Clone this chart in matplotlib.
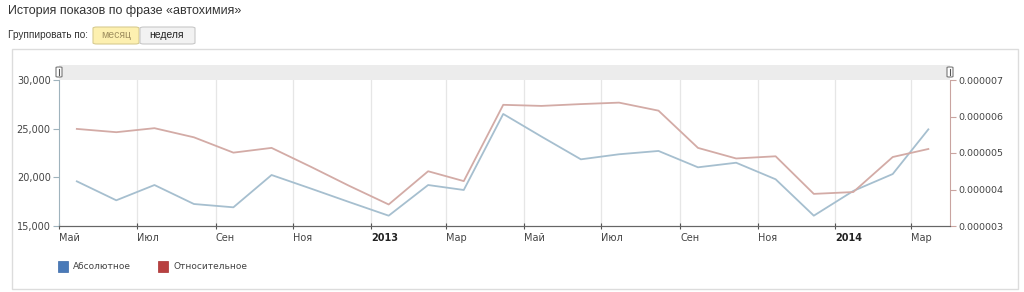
import datetime as dt
import matplotlib
matplotlib.use('Agg')
import matplotlib.pyplot as plt
import matplotlib.dates as mdates
from matplotlib.patches import Rectangle, FancyBboxPatch
from matplotlib.ticker import FuncFormatter, FixedLocator

# monthly points, May 2012 .. Mar 2014 (plotted mid-month)
months = [(2012, m) for m in range(5, 13)] + [(2013, m) for m in range(1, 13)] + [(2014, m) for m in range(1, 4)]
absolute = [19590, 17640, 19210, 17260, 16920, 20240, 18840, 17460, 16060, 19210, 18700, 26510,
            24190, 21850, 22370, 22710, 21030, 21500, 19800, 16060, 18600, 20340, 24930]
relative = [5.66, 5.57, 5.68, 5.43, 5.01, 5.14, 4.62, 4.10, 3.59, 4.50, 4.23, 6.32,
            6.29, 6.34, 6.38, 6.16, 5.14, 4.85, 4.91, 3.88, 3.93, 4.89, 5.11]  # x 1e-6
tick_dates = [(2012, 5), (2012, 7), (2012, 9), (2012, 11), (2013, 1), (2013, 3), (2013, 5),
              (2013, 7), (2013, 9), (2013, 11), (2014, 1), (2014, 3)]
tick_labels = ['Май', 'Июл', 'Сен', 'Ноя', '2013', 'Мар', 'Май', 'Июл', 'Сен', 'Ноя', '2014', 'Мар']

W, H = 1024, 292
fig = plt.figure(figsize=(W / 100, H / 100), dpi=100)
fig.patch.set_facecolor('white')

def fx(px):
    return px / W

def fy(py):
    return 1 - py / H

# outer panel
fig.patches.append(Rectangle((fx(12), fy(289)), fx(1006), (289 - 49) / H, transform=fig.transFigure,
                             fill=False, edgecolor='#dcdcdc', lw=1))

fig.text(fx(8), fy(11), 'История показов по фразе «автохимия»', fontsize=9, family='Liberation Sans',
         color='#333333', va='center')
fig.text(fx(8), fy(35), 'Группировать по:', fontsize=7.2, family='Liberation Sans', color='#333333', va='center')
fig.patches.append(FancyBboxPatch((fx(93), fy(44)), fx(46), 17 / H, boxstyle='round,pad=0,rounding_size=0.004',
                                  transform=fig.transFigure, facecolor='#fdf0b0', edgecolor='#d8cc90', lw=0.8))
fig.patches.append(FancyBboxPatch((fx(140), fy(44)), fx(55), 17 / H, boxstyle='round,pad=0,rounding_size=0.004',
                                  transform=fig.transFigure, facecolor='#f2f2f2', edgecolor='#c8c8c8', lw=0.8))
fig.text(fx(116), fy(35.5), 'месяц', fontsize=7.5, family='Liberation Sans', color='#a09060',
         ha='center', va='center')
fig.text(fx(167), fy(35.5), 'неделя', fontsize=7.5, family='Liberation Sans', color='#222222',
         ha='center', va='center')

# scroller band
fig.patches.append(Rectangle((fx(59), fy(80)), fx(891), 15 / H, transform=fig.transFigure,
                             facecolor='#ececec', edgecolor='none'))
for hx in (59, 950):
    fig.patches.append(FancyBboxPatch((fx(hx - 3), fy(77)), fx(6), 10 / H,
                                      boxstyle='round,pad=0,rounding_size=0.002', transform=fig.transFigure,
                                      facecolor='white', edgecolor='#777777', lw=0.8, zorder=5))
    fig.lines.append(plt.Line2D([fx(hx), fx(hx)], [fy(75), fy(69)], transform=fig.transFigure,
                                color='#555555', lw=0.8, zorder=6))

ax = fig.add_axes([fx(59), fy(226), fx(891), (226 - 80) / H])
ax2 = ax.twinx()

x = [dt.date(y, m, 15) for y, m in months]
ax.plot(x, absolute, color='#a6bfcf', lw=1.3)
ax2.plot(x, [v * 1e-6 for v in relative], color='#d3aba6', lw=1.3)

ax.set_xlim(dt.date(2012, 5, 1), dt.date(2014, 4, 1))
ax.set_ylim(15000, 30000)
ax2.set_ylim(3e-6, 7e-6)

ticks = [mdates.date2num(dt.date(y, m, 1)) for y, m in tick_dates]
ax.xaxis.set_major_locator(FixedLocator(ticks))
ax.set_xticklabels(tick_labels)
for lbl, t in zip(ax.get_xticklabels(), tick_labels):
    lbl.set_ha('left')
    lbl.set_fontsize(7)
    lbl.set_color('#444444')
    if t in ('2013', '2014'):
        lbl.set_fontweight('bold')
        lbl.set_color('#222222')
for t in ticks[1:]:
    ax.axvline(t, color='#e6e6e6', lw=0.9, zorder=0)

ax.set_yticks([15000, 20000, 25000, 30000])
ax.yaxis.set_major_formatter(FuncFormatter(lambda v, p: f'{int(v):,}'))
ax2.set_yticks([3e-6, 4e-6, 5e-6, 6e-6, 7e-6])
ax2.yaxis.set_major_formatter(FuncFormatter(lambda v, p: f'{v:.6f}'))

ax.tick_params(axis='x', length=4, width=0.8, color='#555555', direction='inout', pad=3)
ax.tick_params(axis='y', length=4, width=0.8, color='#9fb3bd', labelsize=7, labelcolor='#444444', pad=2)
ax2.tick_params(axis='y', length=4, width=0.8, color='#c9a4a0', labelsize=6.8, labelcolor='#444444', pad=2)

for a in (ax, ax2):
    a.spines['top'].set_visible(False)
ax.spines['left'].set_color('#9fb3bd')
ax.spines['right'].set_visible(False)
ax2.spines['left'].set_visible(False)
ax2.spines['right'].set_color('#c9a4a0')
ax2.spines['bottom'].set_color('#666666')
ax.spines['bottom'].set_color('#666666')
ax.set_facecolor('none')

# legend
fig.patches.append(Rectangle((fx(58), fy(272)), fx(10), 11 / H, transform=fig.transFigure,
                             facecolor='#4a7ab8', edgecolor='#3a6aa8', lw=0.5))
fig.text(fx(73), fy(266.5), 'Абсолютное', fontsize=6.5, color='#444444', va='center')
fig.patches.append(Rectangle((fx(158), fy(272)), fx(10), 11 / H, transform=fig.transFigure,
                             facecolor='#b84040', edgecolor='#a83030', lw=0.5))
fig.text(fx(173), fy(266.5), 'Относительное', fontsize=6.5, color='#444444', va='center')

fig.savefig('out.png', dpi=100)
